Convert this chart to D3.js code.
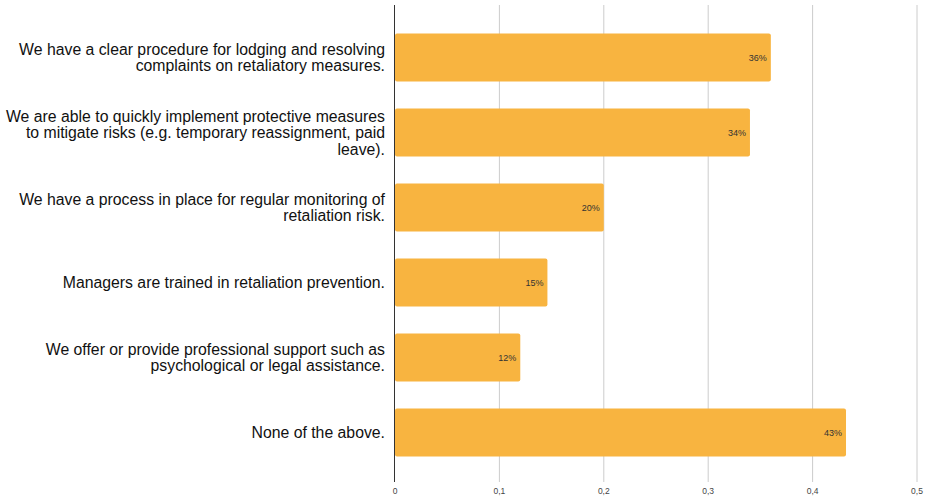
<!DOCTYPE html>
<html>
<head>
<meta charset="utf-8">
<script src="https://cdn.jsdelivr.net/npm/d3@7"></script>
<style>
  body { margin: 0; background: #fff; }
  svg { display: block; font-family: Arial, "Liberation Sans", sans-serif; }
</style>
</head>
<body>
<svg id="chart" width="927" height="496"></svg>
<script>
// Answer categories (each line of a label is its own string)
const categories = [
  ["We have a clear procedure for lodging and resolving", "complaints on retaliatory measures."],
  ["We are able to quickly implement protective measures", "to mitigate risks (e.g. temporary reassignment, paid", "leave)."],
  ["We have a process in place for regular monitoring of", "retaliation risk."],
  ["Managers are trained in retaliation prevention."],
  ["We offer or provide professional support such as", "psychological or legal assistance."],
  ["None of the above."]
];

// Share of respondents
const values = [0.36, 0.34, 0.20, 0.146, 0.12, 0.432];

// X axis ticks
const xTicks = [0, 0.1, 0.2, 0.3, 0.4, 0.5];

const svg = d3.select("#chart");

// Plot area
const left = 395, right = 917;
const gridTop = 5, gridBottom = 482;

const x = d3.scaleLinear().domain([0, 0.5]).range([left, right]);
const y = d3.scaleBand()
  .domain(d3.range(categories.length))
  .range([20, 470])
  .paddingInner(0.36)
  .paddingOuter(0.18);

// Gridlines
svg.append("g")
  .selectAll("line")
  .data(xTicks.slice(1))
  .join("line")
  .attr("x1", d => x(d)).attr("x2", d => x(d))
  .attr("y1", gridTop).attr("y2", gridBottom)
  .attr("stroke", "#cccccc")
  .attr("stroke-width", 1);

// Bars
svg.append("g")
  .selectAll("rect")
  .data(values)
  .join("rect")
  .attr("x", x(0))
  .attr("y", (d, i) => y(i))
  .attr("width", d => x(d) - x(0))
  .attr("height", y.bandwidth())
  .attr("rx", 2)
  .attr("fill", "#f8b440");

// Zero baseline
svg.append("line")
  .attr("x1", x(0) - 0.5).attr("x2", x(0) - 0.5)
  .attr("y1", gridTop).attr("y2", gridBottom)
  .attr("stroke", "#333")
  .attr("stroke-width", 1);

// Value labels inside bar ends
svg.append("g")
  .selectAll("text")
  .data(values)
  .join("text")
  .attr("x", d => x(d) - 4)
  .attr("y", (d, i) => y(i) + y.bandwidth() / 2)
  .attr("dy", "0.35em")
  .attr("text-anchor", "end")
  .attr("font-size", 9)
  .attr("fill", "#333")
  .text(d => Math.round(d * 100) + "%");

// Category labels
const lineH = 16.5;
const catG = svg.append("g")
  .selectAll("text")
  .data(categories)
  .join("text")
  .attr("text-anchor", "end")
  .attr("font-size", 15.8)
  .attr("fill", "#111");

catG.each(function(lines, i) {
  const cy = y(i) + y.bandwidth() / 2;
  const start = cy - (lines.length - 1) * lineH / 2;
  d3.select(this).selectAll("tspan")
    .data(lines)
    .join("tspan")
    .attr("x", 385)
    .attr("y", (d, j) => start + j * lineH)
    .attr("dy", "0.35em")
    .text(d => d);
});

// X axis tick labels
svg.append("g")
  .selectAll("text")
  .data(xTicks)
  .join("text")
  .attr("x", d => x(d))
  .attr("y", 491)
  .attr("dy", "0.35em")
  .attr("text-anchor", "middle")
  .attr("font-size", 8.5)
  .attr("fill", "#444")
  .text(d => d === 0 ? "0" : d3.format(".1f")(d).replace(".", ","));
</script>
</body>
</html>
